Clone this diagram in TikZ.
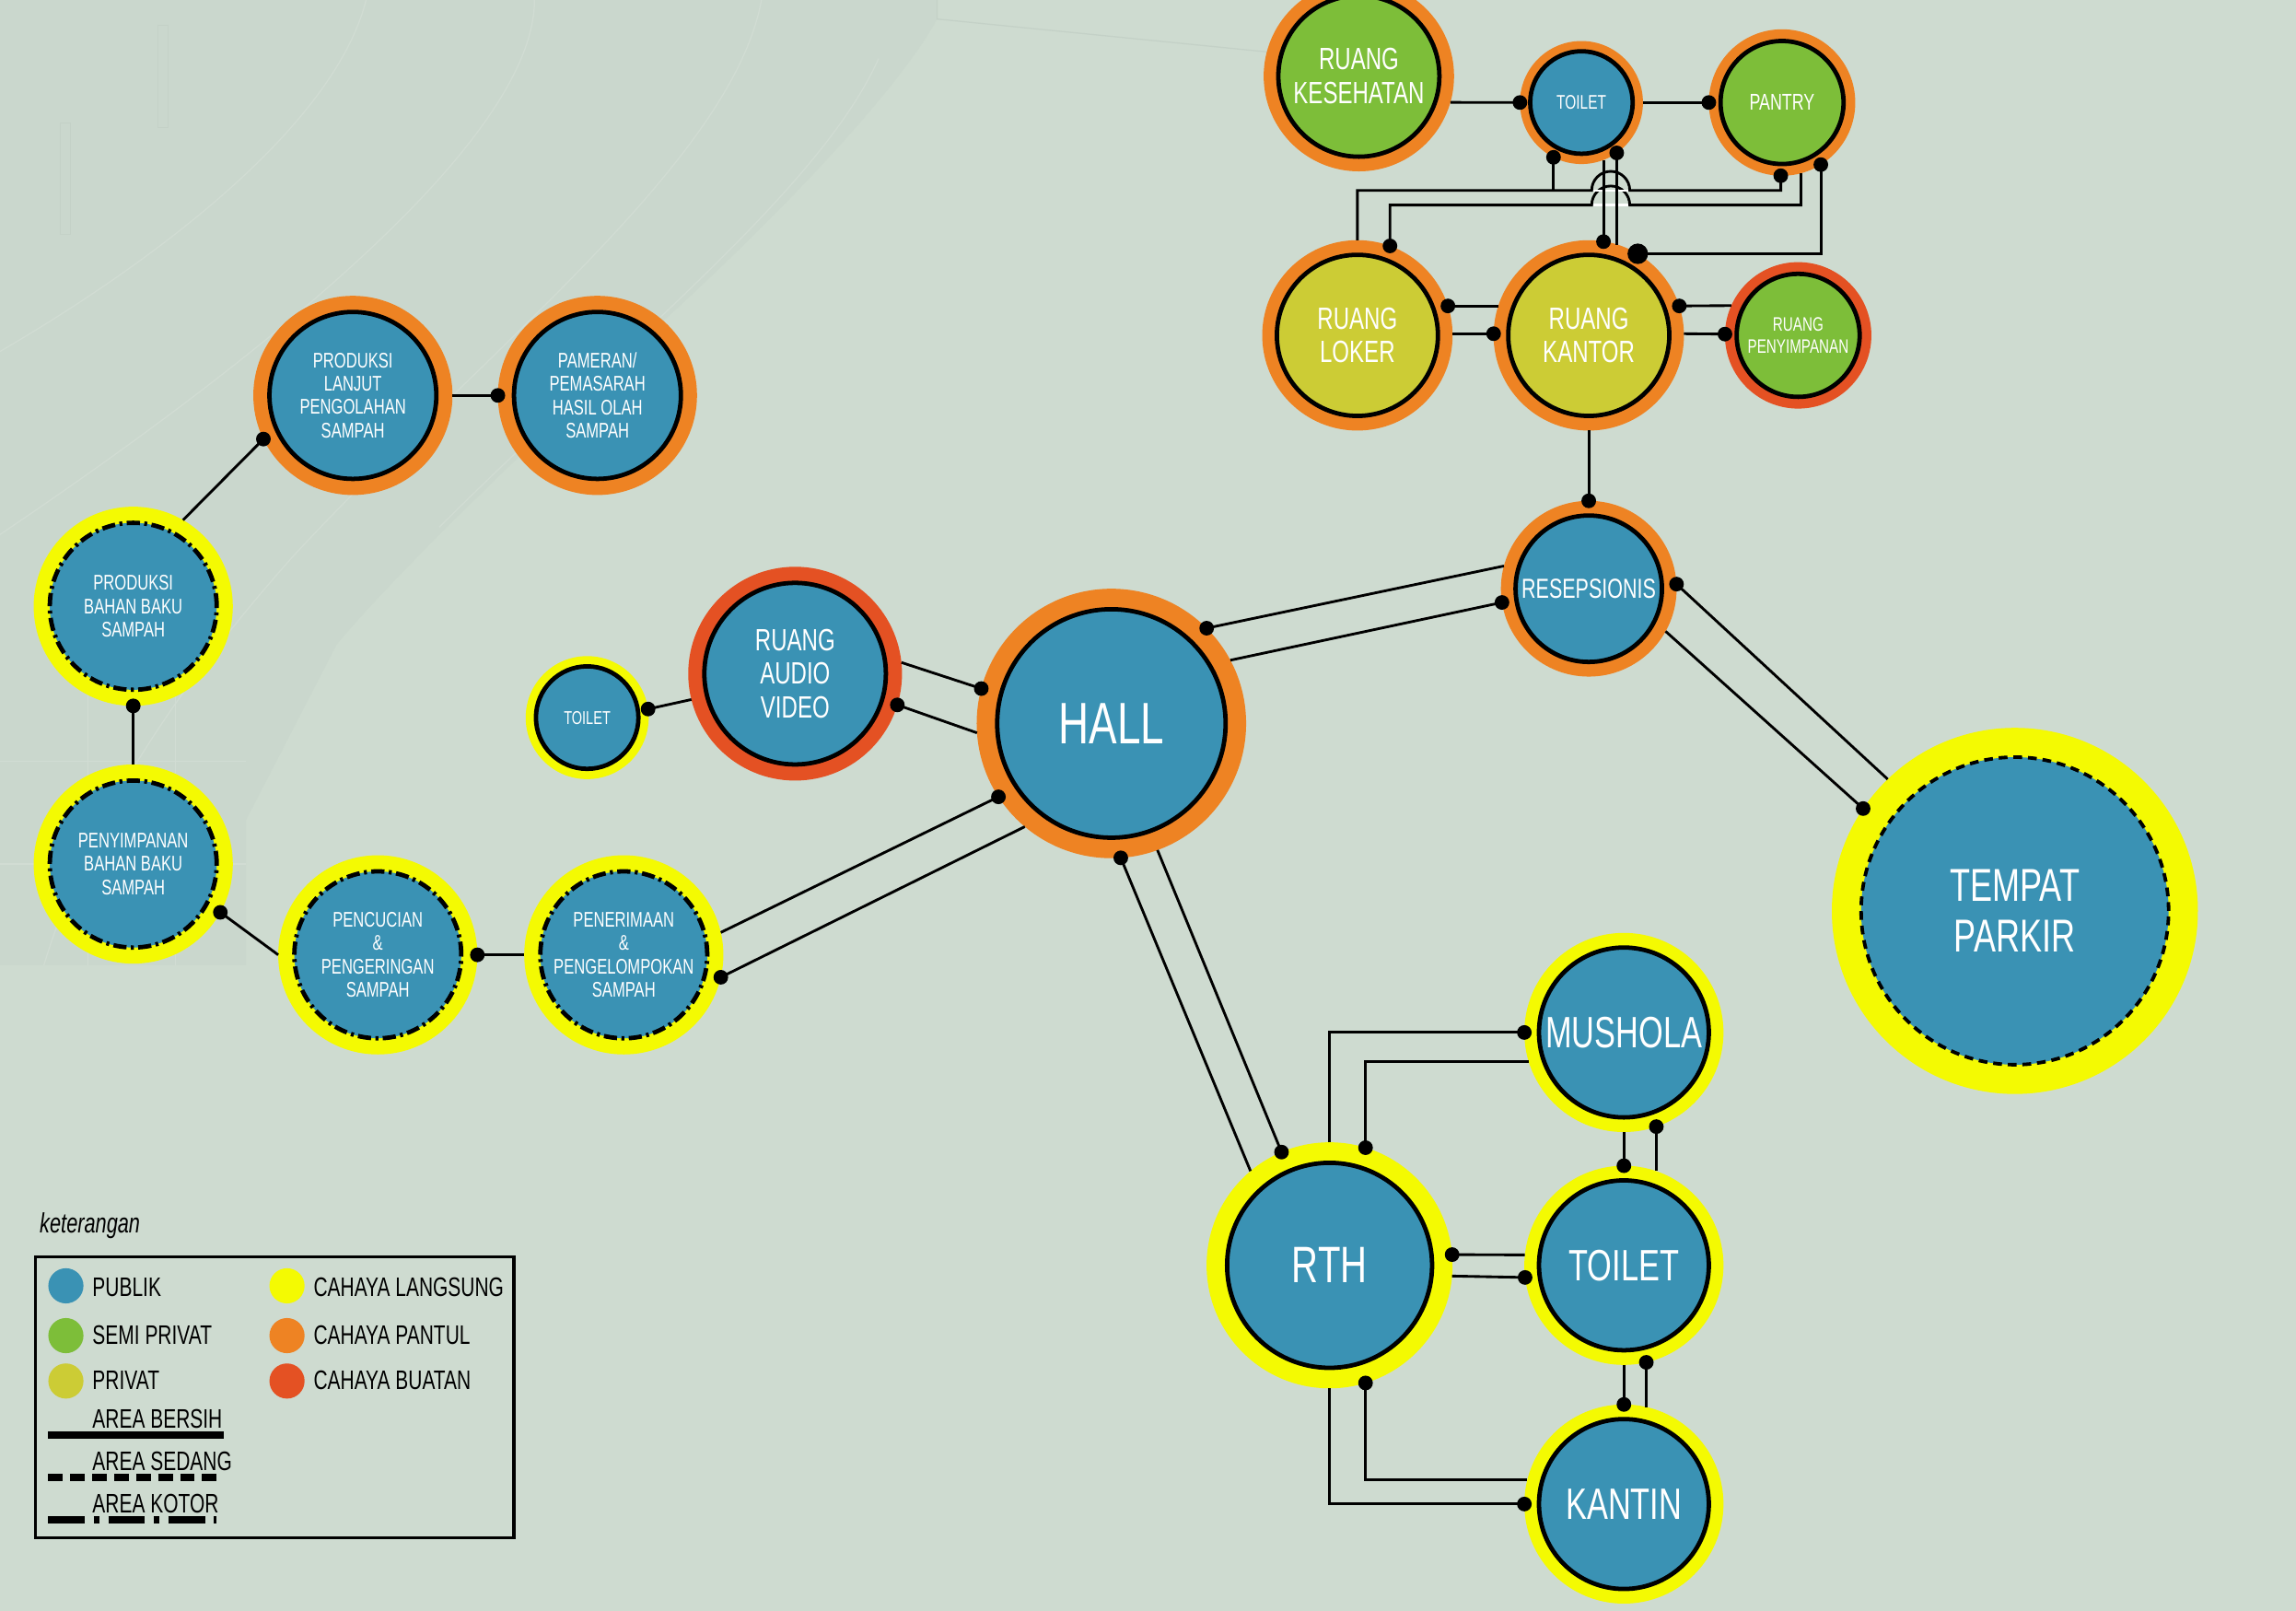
\documentclass[tikz,border=0pt]{standalone}
\usepackage{fontspec}
\newfontfamily\cond[FakeStretch=0.72]{Liberation Sans}
\usetikzlibrary{calc}

\definecolor{bg}{HTML}{CEDBD0}
\definecolor{bgdark}{HTML}{CAD7CD}
\definecolor{sketch}{HTML}{D1DCD3}
\definecolor{sketchdark}{HTML}{C4D1C7}
\definecolor{cpub}{HTML}{3A92B4}
\definecolor{csemi}{HTML}{7DBE39}
\definecolor{cpriv}{HTML}{CCCC35}
\definecolor{cyel}{HTML}{F4FA02}
\definecolor{corg}{HTML}{EE8323}
\definecolor{cred}{HTML}{E45123}

% room: name, position, ring radius, core radius, ring colour, core options, label
\newcommand\room[7]{%
  \node[ringdisc, fill=#5, minimum size=#3*2pt] (#1) at (#2) {};
  \node[roomdisc, minimum size=#4*2pt, #6] (#1-in) at (#2) {#7};}
% junction dot on a connector end
\newcommand\jdot[2][5pt]{\fill (#2) circle[radius=#1];}

\begin{document}
\begin{tikzpicture}[x=1pt,y=-1pt,
  ringdisc/.style={circle, inner sep=0pt, outer sep=0pt},
  roomdisc/.style={circle, inner sep=0pt, outer sep=0pt, text=white, align=center},
  rpub/.style={fill=cpub}, rsemi/.style={fill=csemi}, rpriv/.style={fill=cpriv},
  bclean/.style={draw=black, line width=3pt},
  bsedang/.style={draw=black, line width=2.4pt, dash pattern=on 6pt off 4pt},
  bkotor/.style={draw=black, line width=3pt, dash pattern=on 9pt off 3pt on 2pt off 3pt},
  fs/.style 2 args={font=\cond\fontsize{#1}{#2}\selectfont},
  link/.style={draw=black, line width=1.8pt},
  legtext/.style={anchor=base west, inner sep=0pt, text=black, font=\cond\fontsize{18.3}{20}\selectfont},
  legdisc/.style={circle, inner sep=0pt, minimum size=24pt},
]
\clip (0,0) rectangle (1568,1100);
\fill[bg] (0,0) rectangle (1568,1100);

% faint building sketch behind the diagram
\fill[bgdark] (0,0) -- (640,0) -- (640,13)
  .. controls (620,50) and (560,120) .. (463,210)
  .. controls (400,268) and (280,380) .. (230,440)
  -- (168,560) -- (168,659) -- (0,659) -- cycle;
\begin{scope}[draw=sketch, line width=0.8pt]
  \draw (365,0) .. controls (365,90) and (200,230) .. (0,365);
  \draw (520,0) .. controls (500,110) and (330,240) .. (200,380) .. controls (120,470) and (60,560) .. (30,659);
  \draw (600,40) .. controls (560,130) and (420,240) .. (300,360);
  \draw (250,0) .. controls (230,80) and (120,170) .. (0,240);
  \draw (0,520) -- (168,520) (0,590) -- (168,590) (60,470) -- (60,659) (120,470) -- (120,659);
\end{scope}
\begin{scope}[draw=sketchdark, fill=sketch, line width=0.6pt]
  \draw (108,17) rectangle (115,87);
  \draw (41,84) rectangle (48,160);
\end{scope}
\draw[sketchdark, line width=0.8pt] (640,0) -- (640,13) -- (881,37);

% ---------- rooms ----------
\room{kes}{928,52}{65}{55}{corg}{rsemi,bclean,fs={21}{23}}{RUANG\\KESEHATAN}
\room{toit}{1080,70}{42}{35}{corg}{rpub,bclean,fs={13.5}{15}}{TOILET}
\room{pan}{1217,70}{50}{42}{corg}{rsemi,bclean,fs={15.6}{17}}{PANTRY}
\room{lok}{927,229}{65}{55}{corg}{rpriv,bclean,fs={21}{23}}{RUANG\\LOKER}
\room{kan}{1085,229}{65}{55}{corg}{rpriv,bclean,fs={21}{23}}{RUANG\\KANTOR}
\room{pny}{1228,229}{50}{42}{cred}{rsemi,bclean,fs={13.3}{15}}{RUANG\\PENYIMPANAN}
\room{res}{1085,402}{60}{50}{corg}{rpub,bclean,fs={18.8}{20}}{RESEPSIONIS}
\room{hall}{759,494}{92}{78}{corg}{rpub,bclean,fs={40}{44}}{HALL}
\room{aud}{543,460}{73}{62}{cred}{rpub,bclean,fs={21}{23}}{RUANG\\AUDIO\\VIDEO}
\room{tois}{401,490}{42}{35}{cyel}{rpub,bclean,fs={12.7}{14}}{TOILET}
\room{park}{1376,622}{125}{105}{cyel}{rpub,bsedang,fs={31.5}{35}}{TEMPAT\\PARKIR}
\room{mus}{1109,705}{68}{58}{cyel}{rpub,bclean,fs={30}{33}}{MUSHOLA}
\room{toib}{1109,864}{68}{58}{cyel}{rpub,bclean,fs={30}{33}}{TOILET}
\room{kant}{1109,1027}{68}{58}{cyel}{rpub,bclean,fs={30}{33}}{KANTIN}
\room{rth}{908,864}{84}{70}{cyel}{rpub,bclean,fs={35}{38}}{RTH}
\room{pl}{241,270}{68}{57}{corg}{rpub,bclean,fs={14.5}{16}}{PRODUKSI\\LANJUT\\PENGOLAHAN\\SAMPAH}
\room{pam}{408,270}{68}{57}{corg}{rpub,bclean,fs={14.5}{16}}{PAMERAN/\\PEMASARAH\\HASIL OLAH\\SAMPAH}
\room{pbb}{91,414}{68}{57}{cyel}{rpub,bkotor,fs={14.5}{16}}{PRODUKSI\\BAHAN BAKU\\SAMPAH}
\room{pyb}{91,590}{68}{57}{cyel}{rpub,bkotor,fs={14.5}{16}}{PENYIMPANAN\\BAHAN BAKU\\SAMPAH}
\room{pcu}{258,652}{68}{57}{cyel}{rpub,bkotor,fs={14.5}{16}}{PENCUCIAN\\\&\\PENGERINGAN\\SAMPAH}
\room{pen}{426,652}{68}{57}{cyel}{rpub,bkotor,fs={14.5}{16}}{PENERIMAAN\\\&\\PENGELOMPOKAN\\SAMPAH}

% ---------- office wing ----------
\draw[link] (kes.-16) -- (toit.180); \jdot{toit.180}
\draw[link] (toit.0) -- (pan.180); \jdot{pan.180}
\coordinate (rowa) at (0,130);
\coordinate (rowb) at (0,140);
\draw[link] (lok.90) |- (1087,130) arc[start angle=180, end angle=0, radius=13pt] -| (pan.-91); \jdot{pan.-91}
\draw[link] (lok.70) |- (1087,140) arc[start angle=180, end angle=0, radius=13pt] -| (pan.-75); \jdot{lok.70}
\draw[white, line width=1.5pt] (1088,130) -- (1112,130) (1088,140) -- (1112,140);
\draw[link] (toit.243) -- (toit.243 |- rowa); \jdot{toit.243}
\draw[link] (toit.-69) -- (toit.-69 |- kan.80); \jdot{toit.-69 |- kan.80}
\draw[link] (toit.-55) -- (toit.-55 |- kan.72); \jdot{toit.-55}
\draw[link] (kan.59) -| (pan.-58); \jdot[7pt]{kan.59} \jdot{pan.-58}
\draw[link] (lok.18) -- (kan.162); \jdot{lok.18}
\draw[link] (lok.1) -- (kan.179); \jdot{kan.179}
\draw[link] (kan.18) -- (pny.156); \jdot{kan.18}
\draw[link] (kan.1) -- (pny.179); \jdot{pny.179}
\draw[link] (kan.270) -- (res.90); \jdot{res.90}

% ---------- reception, hall, parking ----------
\draw[link] (res.165) -- (hall.45); \jdot{hall.45}
\draw[link] (res.189) -- (hall.28); \jdot{res.189}
\draw[link] (res.3) -- (park.134); \jdot{res.3}
\draw[link] (res.-29) -- (park.146); \jdot{park.146}
\draw[link] (aud.6) -- (hall.165); \jdot{hall.165}
\draw[link] (aud.-17) -- (hall.184); \jdot{aud.-17}
\draw[link] (tois.8) -- (aud.194); \jdot{tois.8}
\draw[link] (hall.213) -- (pen.13); \jdot{hall.213}
\draw[link] (hall.230) -- (pen.-13); \jdot{pen.-13}
\draw[link] (hall.-86) -- (rth.130); \jdot{hall.-86}
\draw[link] (hall.-70) -- (rth.113); \jdot{rth.113}

% ---------- waste processing chain ----------
\draw[link] (pcu.0) -- (pen.180); \jdot{pcu.0}
\draw[link] (pyb.-29) -- (pcu.180); \jdot{pyb.-29}
\draw[link] (pbb.270) -- (pyb.90); \jdot{pbb.270}
\draw[link] (pbb.60) -- (pl.206); \jdot{pl.206}
\draw[link] (pl.0) -- (pam.180); \jdot{pam.180}

% ---------- open space group ----------
\draw[link] (rth.90) |- (mus.180); \jdot{mus.180}
\draw[link] (rth.73) |- (mus.197); \jdot{rth.73}
\draw[link] (mus.270) -- (toib.90); \jdot{toib.90}
\draw[link] (mus.-71) -- (mus.-71 |- toib.71); \jdot{mus.-71}
\draw[link] (rth.5) -- (toib.174); \jdot{rth.5}
\draw[link] (rth.-5) -- (toib.187); \jdot{toib.187}
\draw[link] (toib.270) -- (kant.90); \jdot{kant.90}
\draw[link] (toib.-77) -- (toib.-77 |- kant.77); \jdot{toib.-77}
\draw[link] (rth.-73) |- (kant.166); \jdot{rth.-73}
\draw[link] (rth.270) |- (kant.180); \jdot{kant.180}

% ---------- legend ----------
\node[anchor=base west, inner sep=0pt, font=\cond\itshape\fontsize{19}{21}\selectfont] (legtitle) at (27,842) {keterangan};
\draw[line width=2pt] (24,858) rectangle (351,1050);
\node[legdisc, fill=cpub] (lg1) at (45,878) {};
\node[legdisc, fill=csemi] (lg2) at (45,912) {};
\node[legdisc, fill=cpriv] (lg3) at (45,943) {};
\node[legdisc, fill=cyel] (lg4) at (196,878) {};
\node[legdisc, fill=corg] (lg5) at (196,912) {};
\node[legdisc, fill=cred] (lg6) at (196,943) {};
\node[legtext] (lt1) at (63,885) {PUBLIK};
\node[legtext] (lt2) at (63,918) {SEMI PRIVAT};
\node[legtext] (lt3) at (63,949) {PRIVAT};
\node[legtext] (lt4) at (214,885) {CAHAYA LANGSUNG};
\node[legtext] (lt5) at (214,918) {CAHAYA PANTUL};
\node[legtext] (lt6) at (214,949) {CAHAYA BUATAN};
\node[legtext] (lt7) at (63,975) {AREA BERSIH};
\node[legtext] (lt8) at (63,1004) {AREA SEDANG};
\node[legtext] (lt9) at (63,1033) {AREA KOTOR};
\draw[line width=5pt] (33,980) -- (153,980);
\draw[line width=5pt, dash pattern=on 10pt off 5pt] (33,1009) -- (148,1009);
\draw[line width=5pt, dash pattern=on 25pt off 6pt on 4pt off 6pt] (33,1038) -- (148,1038);
\end{tikzpicture}
\end{document}
